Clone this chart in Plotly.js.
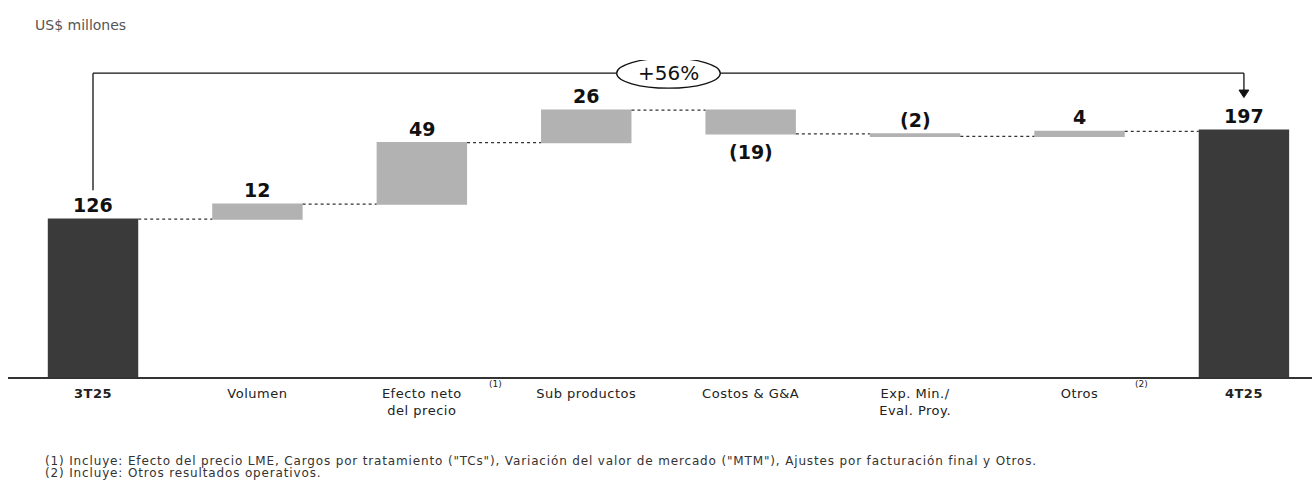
<!DOCTYPE html>
<html>
<head>
<meta charset="utf-8">
<script src="https://cdn.plot.ly/plotly-3.0.1.min.js"></script>
<style>
html,body{margin:0;padding:0;background:#fff;}
#chart{width:1312px;height:482px;}
#chart g.xtick text{letter-spacing:0.5px;}
#chart g.annotation[data-index="12"] text, #chart g.annotation[data-index="13"] text{letter-spacing:0.85px;}
</style>
</head>
<body>
<div id="chart"></div>
<script>
// ---- data ----
var categories = ["<b>3T25</b>", "Volumen", "Efecto neto<br>del precio", "Sub productos", "Costos &amp; G&amp;A", "Exp. Min./<br>Eval. Proy.", "Otros", "<b>4T25</b>"];
var values = [126, 12, 49, 26, -19, -2, 4, 197];
var measures = ["absolute", "relative", "relative", "relative", "relative", "relative", "relative", "absolute"];
var valueLabels = ["126", "12", "49", "26", "(19)", "(2)", "4", "197"];
var labelBelow = [false, false, false, false, true, false, false, false];
var changeLabel = "+56%";
var unitLabel = "US$ millones";
var footnotes = ["(1) Incluye: Efecto del precio LME, Cargos por tratamiento (\"TCs\"), Variación del valor de mercado (\"MTM\"), Ajustes por facturación final y Otros.",
                 "(2) Incluye: Otros resultados operativos."];

(function () {
var DARK = "#3a3a3a", GREY = "#b2b2b2";
var FONT = "DejaVu Sans, Verdana, sans-serif";

var xs = [];
for (var k = 0; k < categories.length; k++) xs.push(k);

var ends = [], starts = [], run = 0;
for (var i = 0; i < values.length; i++) {
  if (measures[i] === "absolute") { starts.push(0); run = values[i]; }
  else { starts.push(run); run += values[i]; }
  ends.push(run);
}

var trace = {
  type: "waterfall",
  x: xs,
  y: values,
  measure: measures,
  width: 0.55,
  textinfo: "none",
  hoverinfo: "skip",
  increasing: {marker: {color: GREY}},
  decreasing: {marker: {color: GREY}},
  totals: {marker: {color: DARK}},
  connector: {mode: "between", line: {color: "#333", width: 1.2, dash: "dot"}}
};

var annotations = [];
for (var j = 0; j < values.length; j++) {
  var hi = Math.max(starts[j], ends[j]), lo = Math.min(starts[j], ends[j]);
  annotations.push({
    x: xs[j], y: labelBelow[j] ? lo : hi, xref: "x", yref: "y",
    text: "<b>" + valueLabels[j] + "</b>", showarrow: false,
    yanchor: "middle", yshift: labelBelow[j] ? -18 : 14,
    font: {family: FONT, size: 19, color: "#111"}
  });
}

var n = values.length;
var first = ends[0], last = ends[n - 1];
var bracketY = 242.5;
var mid = (xs[0] + xs[n - 1]) / 2;
annotations.push({
  x: mid, y: bracketY, xref: "x", yref: "y",
  text: changeLabel, showarrow: false, yanchor: "middle",
  font: {family: FONT, size: 20, color: "#111"}
});
annotations.push({x: 2.45, y: -0.022, xref: "x", yref: "paper", text: "(1)", showarrow: false, yanchor: "middle", font: {family: FONT, size: 9, color: "#222"}});
annotations.push({x: 6.38, y: -0.022, xref: "x", yref: "paper", text: "(2)", showarrow: false, yanchor: "middle", font: {family: FONT, size: 9, color: "#222"}});
annotations.push({x: 0.019, y: 1.11, xref: "paper", yref: "paper", text: unitLabel, showarrow: false, xanchor: "left", yanchor: "middle", font: {family: FONT, size: 14, color: "#555"}});
annotations.push({x: 0.0268, y: -0.265, xref: "paper", yref: "paper", text: footnotes[0], showarrow: false, xanchor: "left", yanchor: "middle", align: "left", font: {family: FONT, size: 12, color: "#333"}});
annotations.push({x: 0.0268, y: -0.303, xref: "paper", yref: "paper", text: footnotes[1], showarrow: false, xanchor: "left", yanchor: "middle", align: "left", font: {family: FONT, size: 12, color: "#333"}});

var tipY = last + 26;
var ew = 0.315, eh = 12;
var shapes = [
  {type: "line", xref: "x", yref: "y", x0: xs[0], x1: xs[0], y0: first + 23, y1: bracketY, line: {color: "#111", width: 1.3}},
  {type: "line", xref: "x", yref: "y", x0: xs[0], x1: mid - ew, y0: bracketY, y1: bracketY, line: {color: "#111", width: 1.3}},
  {type: "line", xref: "x", yref: "y", x0: mid + ew, x1: xs[n - 1], y0: bracketY, y1: bracketY, line: {color: "#111", width: 1.3}},
  {type: "line", xref: "x", yref: "y", x0: xs[n - 1], x1: xs[n - 1], y0: bracketY, y1: tipY + 4, line: {color: "#111", width: 1.3}},
  {type: "path", xref: "x", yref: "y",
   path: "M " + (xs[n - 1] - 0.03) + " " + (tipY + 6) + " L " + (xs[n - 1] + 0.03) + " " + (tipY + 6) + " L " + xs[n - 1] + " " + tipY + " Z",
   fillcolor: "#111", line: {color: "#111", width: 1}},
  {type: "circle", xref: "x", yref: "y", x0: mid - ew, x1: mid + ew, y0: bracketY - eh, y1: bracketY + eh, line: {color: "#111", width: 1.3}, fillcolor: "rgba(0,0,0,0)"}
];

var layout = {
  width: 1312, height: 482,
  margin: {l: 8, r: 0, t: 60, b: 105},
  paper_bgcolor: "#fff", plot_bgcolor: "#fff",
  showlegend: false,
  font: {family: FONT, color: "#222"},
  xaxis: {range: [-0.517, 7.414], showgrid: false, zeroline: false,
          tickvals: xs, ticktext: categories, ticklabelstandoff: 4,
          showline: true, linecolor: "#333", linewidth: 1.5, ticks: "",
          tickfont: {family: FONT, size: 13, color: "#222"}, fixedrange: true},
  yaxis: {range: [0, 253], visible: false, showgrid: false, zeroline: false, fixedrange: true},
  annotations: annotations,
  shapes: shapes
};

Plotly.newPlot("chart", [trace], layout, {displayModeBar: false, staticPlot: true});
})();
</script>
</body>
</html>
